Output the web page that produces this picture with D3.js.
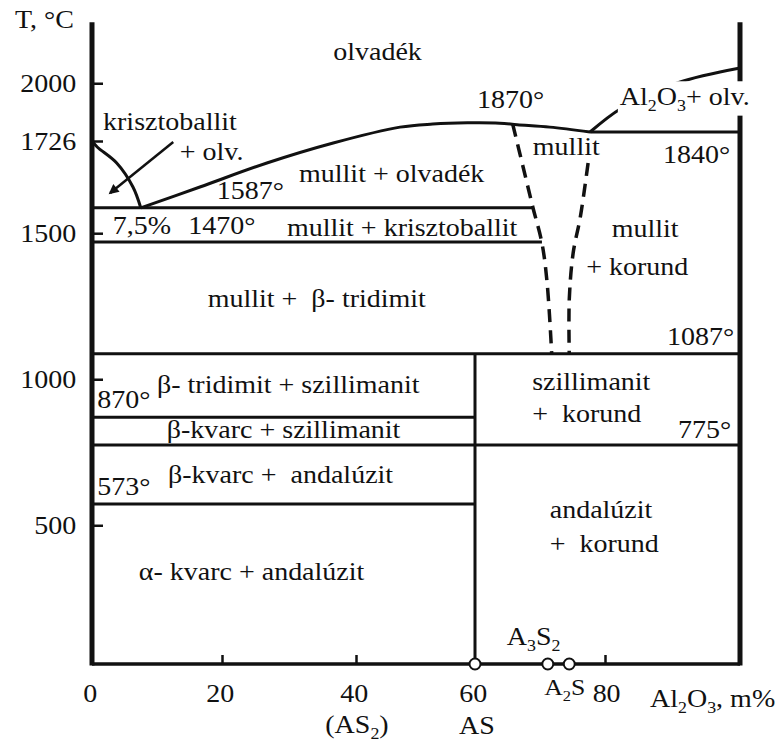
<!DOCTYPE html>
<html>
<head>
<meta charset="utf-8">
<script src="https://cdn.jsdelivr.net/npm/d3@7"></script>
<style>
  html, body { margin: 0; padding: 0; background: #fff; }
  svg text { font-family: "Liberation Serif", "Times New Roman", serif; fill: #111; white-space: pre; }
</style>
</head>
<body>
<svg id="chart" width="775" height="743"></svg>
<script>
// axis ticks
const compTicks = [0, 20, 40, 60, 80];
const tempTicks = [2000, 1726, 1500, 1000, 500];

// isotherms: temperature, from / to (Al2O3 m%)
const isoT    = [1840, 1587, 1470, 1087, 870, 775, 573];
const isoFrom = [77.7, 0, 0, 0, 0, 0, 0];
const isoTo   = [100, 68.9, 70.3, 100, 60, 100, 60];

// liquidus curves
const cristLiqX = [0, 0.8, 3.8, 6.3, 7.5];
const cristLiqT = [1726, 1714, 1682, 1634, 1587];
const mulLiqX = [7.5, 16.6, 26.7, 36.6, 47.4, 52.9, 58.7, 63.8, 66.5, 71.5, 77.7];
const mulLiqT = [1587, 1634, 1682, 1722, 1856, 1866, 1870, 1869, 1864, 1856, 1840];
const corLiqX = [77.7, 82.5, 90.7, 100];
const corLiqT = [1840, 1919, 2001, 2050];

// mullite solid solution limits (dashed)
const ssLeftX  = [65.8, 67.4, 68.9, 70.3, 71.1, 71.8];
const ssLeftT  = [1866, 1674, 1589, 1466, 1329, 1087];
const ssRightX = [77.4, 76.2, 75.1, 74.5, 74.5];
const ssRightT = [1682, 1555, 1432, 1271, 1087];

// compounds on the composition axis
const compoundX = [60, 71.2, 74.5];
const asLineT = [1087, 25];

// phase field labels (data coords of the text start / baseline)
const labelText = ['olvadék', '1870°', 'krisztoballit', '+ olv.', 'mullit', '1840°',
  'mullit + olvadék', '1587°', '7,5%', '1470°', 'mullit + krisztoballit', 'mullit', '+ korund',
  'mullit +  β- tridimit', '1087°', 'β- tridimit + szillimanit', '870°', 'szillimanit', '+  korund',
  'β-kvarc + szillimanit', '775°', 'β-kvarc +  andalúzit', '573°', 'andalúzit', '+  korund',
  'α- kvarc + andalúzit'];
const labelX = [36.6, 60.3, 1.7, 13.5, 68.9, 88.6, 31.5, 19.2, 3.2, 14.8, 29.7, 81.0, 77.1,
  17.8, 89.2, 10.0, 0.8, 68.8, 68.8, 11.5, 90.8, 11.7, 0.8, 71.5, 71.5, 7.2];
const labelT = [2076, 1919, 1847, 1688, 1698, 1682, 1644, 1610, 1497, 1497, 1490, 1487, 1357,
  1247, 1117, 953, 901, 963, 854, 799, 799, 645, 604, 525, 408, 313];

const arrowFrom = [12.5, 1724];
const arrowTo = [2.8, 1622];

const ink = '#111';
const stretch = 1.12;
const fs = 25;

const svg = d3.select('#chart');

// schematic (piecewise) scales of the original drawing
const x = d3.scaleLinear().domain([0, 20, 40, 60, 80, 100]).range([92, 222, 356, 475, 605, 740]);
const y = d3.scaleLinear().domain([25, 1600, 1726, 1840, 2050]).range([664, 204, 141, 132, 68]);

const line = d3.line().x(d => x(d[0])).y(d => y(d[1]));
const curve = d3.line().x(d => x(d[0])).y(d => y(d[1])).curve(d3.curveCatmullRom);

function richText(el, str) {
  let down = false;
  str.split(/(_\d)/).filter(Boolean).forEach(part => {
    const sub = part[0] === '_';
    const t = el.append('tspan').text(sub ? part.slice(1) : part);
    if (sub) {
      t.attr('font-size', '0.64em');
      if (!down) t.attr('dy', 6);
      down = true;
    } else {
      if (down) t.attr('dy', -6);
      down = false;
    }
  });
}

function label(str, px, py, anchor = 'start', size = fs) {
  const t = svg.append('text')
    .attr('transform', `translate(${px},${py}) scale(${stretch},1)`)
    .attr('text-anchor', anchor)
    .attr('font-size', size);
  richText(t, str);
  return t;
}

// ----- frame -----
svg.append('line').attr('x1', x(0)).attr('x2', x(0)).attr('y1', y(2200)).attr('y2', y(25) + 1.5)
  .attr('stroke', ink).attr('stroke-width', 5);
svg.append('line').attr('x1', x(100)).attr('x2', x(100)).attr('y1', y(2200)).attr('y2', y(25) + 1.5)
  .attr('stroke', ink).attr('stroke-width', 5);
svg.append('line').attr('x1', x(0)).attr('x2', x(100)).attr('y1', y(25)).attr('y2', y(25))
  .attr('stroke', ink).attr('stroke-width', 3.5);

// y axis ticks + labels
svg.append('g').attr('transform', `translate(${x(0)},0)`)
  .call(d3.axisLeft(y).tickValues(tempTicks).tickSize(-11).tickPadding(14).tickFormat(d3.format('d')))
  .call(g => g.select('.domain').remove())
  .call(g => g.selectAll('.tick line').attr('stroke', ink).attr('stroke-width', 2.5))
  .call(g => g.selectAll('.tick text').attr('font-size', fs).attr('font-family', null)
    .attr('transform', `scale(${stretch},1)`).attr('dy', '0.32em'));

// x axis ticks + labels
svg.append('g').attr('transform', `translate(0,${y(25)})`)
  .call(d3.axisBottom(x).tickValues(compTicks).tickSize(-9).tickPadding(20).tickFormat(d3.format('d')))
  .call(g => g.select('.domain').remove())
  .call(g => g.selectAll('.tick line').attr('stroke', ink).attr('stroke-width', 2.5)
    .attr('display', d => (d === 0 || d === 60) ? 'none' : null))
  .call(g => g.selectAll('.tick text').attr('font-size', fs).attr('font-family', null)
    .attr('transform', `scale(${stretch},1)`).attr('x', d => d === 80 ? 1 : -2));

// ----- isotherms -----
svg.append('g').selectAll('line').data(isoT).join('line')
  .attr('x1', (d, i) => x(isoFrom[i])).attr('x2', (d, i) => x(isoTo[i]))
  .attr('y1', d => y(d)).attr('y2', d => y(d))
  .attr('stroke', ink).attr('stroke-width', 3);

// AS compound line
svg.append('path').attr('d', line(asLineT.map(t => [compoundX[0], t])))
  .attr('stroke', ink).attr('stroke-width', 3).attr('fill', 'none');

// ----- liquidus -----
[[cristLiqX, cristLiqT], [mulLiqX, mulLiqT], [corLiqX, corLiqT]].forEach(([xs, ts]) => {
  svg.append('path').attr('d', curve(d3.zip(xs, ts)))
    .attr('stroke', ink).attr('stroke-width', 3).attr('fill', 'none');
});

// ----- mullite s.s. dashed -----
[[ssLeftX, ssLeftT], [ssRightX, ssRightT]].forEach(([xs, ts]) => {
  svg.append('path').attr('d', curve(d3.zip(xs, ts)))
    .attr('stroke', ink).attr('stroke-width', 3.5).attr('fill', 'none')
    .attr('stroke-dasharray', '13,8');
});

// ----- arrow -----
svg.append('defs').append('marker').attr('id', 'arrow')
  .attr('viewBox', '0 0 10 10').attr('refX', 8).attr('refY', 5)
  .attr('markerWidth', 5).attr('markerHeight', 4).attr('orient', 'auto')
  .append('path').attr('d', 'M0,0L10,5L0,10z').attr('fill', ink);
svg.append('path').attr('d', line([arrowFrom, arrowTo]))
  .attr('stroke', ink).attr('stroke-width', 2.5).attr('marker-end', 'url(#arrow)');

// ----- compounds -----
svg.append('g').selectAll('circle').data(compoundX).join('circle')
  .attr('cx', d => x(d)).attr('cy', y(25)).attr('r', 5.5)
  .attr('fill', '#fff').attr('stroke', ink).attr('stroke-width', 2);

// ----- labels -----
labelText.forEach((s, i) => label(s, x(labelX[i]), y(labelT[i])));

// Al2O3 + olv. with knocked-out background
const al = label('Al_2O_3+ olv.', x(82.2), y(1929));
const bb = al.node().getBBox();
svg.insert('rect', () => al.node())
  .attr('x', x(82.2) + bb.x * stretch - 2).attr('y', y(1929) + bb.y - 1)
  .attr('width', bb.width * stretch + 4).attr('height', bb.height + 2)
  .attr('fill', '#fff');

// axis titles and compound names
label('T, °C', 15, y(2200) + 6);
label('Al_2O_3, m%', x(100) - 90, y(25) + 43);
label('(AS_2)', x(40) + 1, y(25) + 69, 'middle');
label('AS', x(60) + 2, y(25) + 70, 'middle');
label('A_3S_2', x(compoundX[1]) - 41, y(25) - 19);
label('A_2S', x(compoundX[2]) - 25, y(25) + 31, 'start', 23);
</script>
</body>
</html>
